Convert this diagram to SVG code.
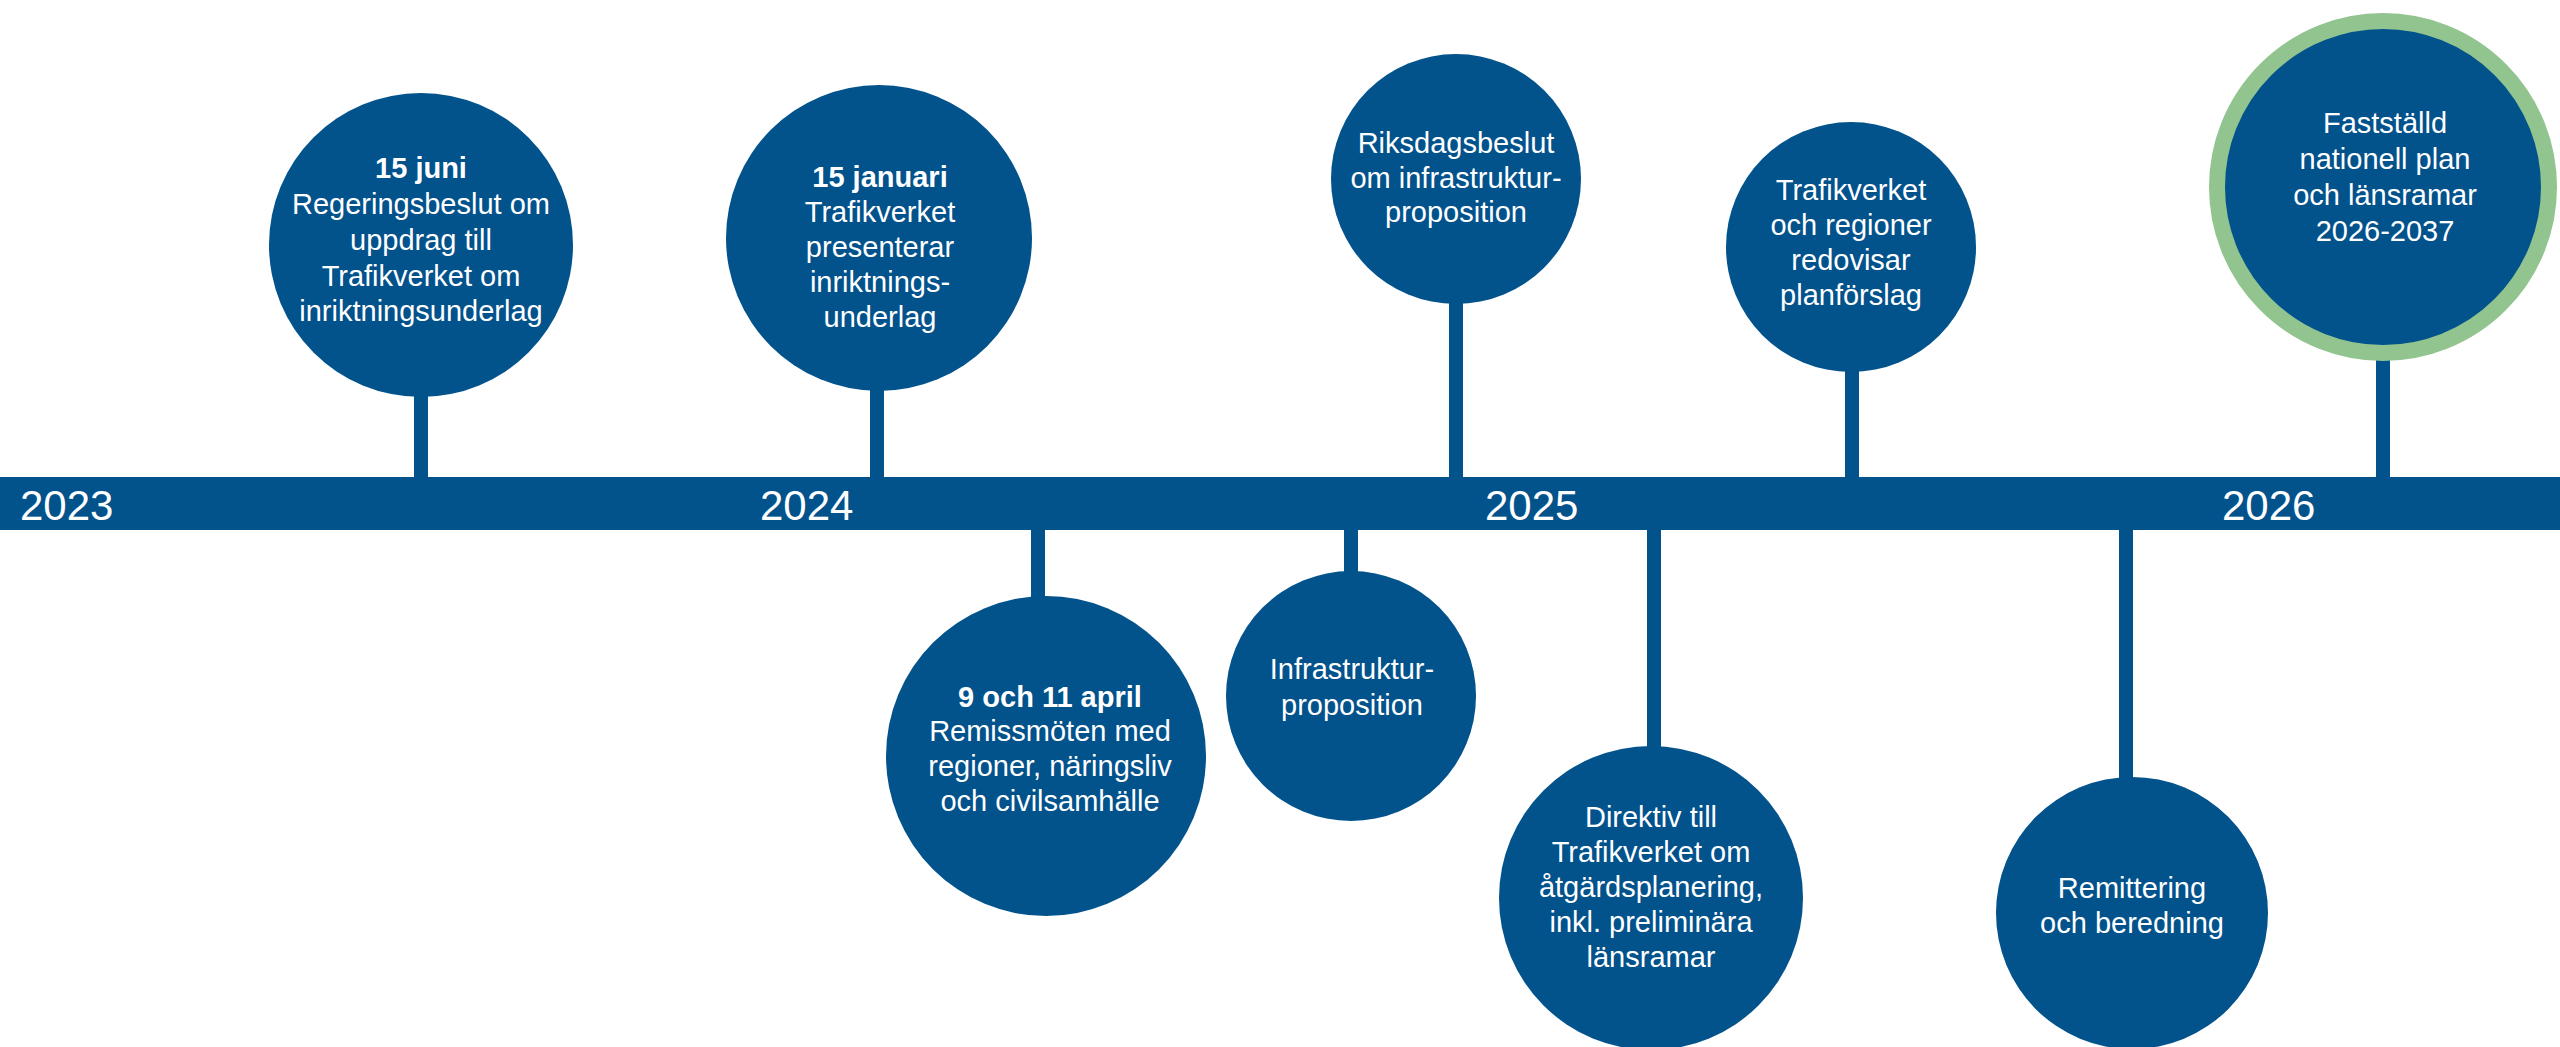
<svg xmlns="http://www.w3.org/2000/svg" width="2560" height="1047" viewBox="0 0 2560 1047">
<style>
  .bg { fill: #ffffff; }
  .bar { fill: #02528c; }
  .node { fill: #02528c; }
  .goal { fill: #02528c; stroke: #92c48f; stroke-width: 16; }
  .stem { stroke: #02528c; stroke-width: 14; fill: none; }
  .t { font-family: "Liberation Sans", Arial, sans-serif; font-size: 29px; fill: #ffffff; text-anchor: middle; }
  .b { font-weight: bold; }
  .year { font-family: "Liberation Sans", Arial, sans-serif; font-size: 42px; fill: #ffffff; }
</style>
<rect class="bg" x="0" y="0" width="2560" height="1047"/>

<g id="connectors">
  <line class="stem" x1="421" y1="390" x2="421" y2="480"/>
  <line class="stem" x1="877" y1="385" x2="877" y2="480"/>
  <line class="stem" x1="1456" y1="298" x2="1456" y2="480"/>
  <line class="stem" x1="1852" y1="366" x2="1852" y2="480"/>
  <line class="stem" x1="2383" y1="355" x2="2383" y2="480"/>
  <line class="stem" x1="1038" y1="527" x2="1038" y2="602"/>
  <line class="stem" x1="1351" y1="527" x2="1351" y2="577"/>
  <line class="stem" x1="1654" y1="527" x2="1654" y2="752"/>
  <line class="stem" x1="2126" y1="527" x2="2126" y2="783"/>
</g>

<g id="timeline">
  <rect class="bar" x="0" y="477" width="2560" height="53"/>
  <text class="year" x="20" y="520">2023</text>
  <text class="year" x="760" y="520">2024</text>
  <text class="year" x="1485" y="520">2025</text>
  <text class="year" x="2222" y="520">2026</text>
</g>

<g id="n-15juni">
  <circle class="node" cx="421" cy="245" r="152"/>
  <text class="t b" x="421" y="178">15 juni</text>
  <text class="t" x="421" y="214">Regeringsbeslut om</text>
  <text class="t" x="421" y="250">uppdrag till</text>
  <text class="t" x="421" y="286">Trafikverket om</text>
  <text class="t" x="421" y="321">inriktningsunderlag</text>
</g>

<g id="n-15januari">
  <circle class="node" cx="879" cy="238" r="153"/>
  <text class="t b" x="880" y="187">15 januari</text>
  <text class="t" x="880" y="222">Trafikverket</text>
  <text class="t" x="880" y="257">presenterar</text>
  <text class="t" x="880" y="292">inriktnings-</text>
  <text class="t" x="880" y="327">underlag</text>
</g>

<g id="n-riksdagsbeslut">
  <circle class="node" cx="1456" cy="179" r="125"/>
  <text class="t" x="1456" y="153">Riksdagsbeslut</text>
  <text class="t" x="1456" y="188">om infrastruktur-</text>
  <text class="t" x="1456" y="222">proposition</text>
</g>

<g id="n-planforslag">
  <circle class="node" cx="1851" cy="247" r="125"/>
  <text class="t" x="1851" y="200">Trafikverket</text>
  <text class="t" x="1851" y="235">och regioner</text>
  <text class="t" x="1851" y="270">redovisar</text>
  <text class="t" x="1851" y="305">planförslag</text>
</g>

<g id="n-faststalld">
  <circle class="goal" cx="2383" cy="187" r="166"/>
  <text class="t" x="2385" y="133">Fastställd</text>
  <text class="t" x="2385" y="169">nationell plan</text>
  <text class="t" x="2385" y="205">och länsramar</text>
  <text class="t" x="2385" y="241">2026-2037</text>
</g>

<g id="n-april">
  <circle class="node" cx="1046" cy="756" r="160"/>
  <text class="t b" x="1050" y="707">9 och 11 april</text>
  <text class="t" x="1050" y="741">Remissmöten med</text>
  <text class="t" x="1050" y="776">regioner, näringsliv</text>
  <text class="t" x="1050" y="811">och civilsamhälle</text>
</g>

<g id="n-infraprop">
  <circle class="node" cx="1351" cy="696" r="125"/>
  <text class="t" x="1352" y="679">Infrastruktur-</text>
  <text class="t" x="1352" y="715">proposition</text>
</g>

<g id="n-direktiv">
  <circle class="node" cx="1651" cy="898" r="152"/>
  <text class="t" x="1651" y="827">Direktiv till</text>
  <text class="t" x="1651" y="862">Trafikverket om</text>
  <text class="t" x="1651" y="897">åtgärdsplanering,</text>
  <text class="t" x="1651" y="932">inkl. preliminära</text>
  <text class="t" x="1651" y="967">länsramar</text>
</g>

<g id="n-remittering">
  <circle class="node" cx="2132" cy="913" r="136"/>
  <text class="t" x="2132" y="898">Remittering</text>
  <text class="t" x="2132" y="933">och beredning</text>
</g>
</svg>
